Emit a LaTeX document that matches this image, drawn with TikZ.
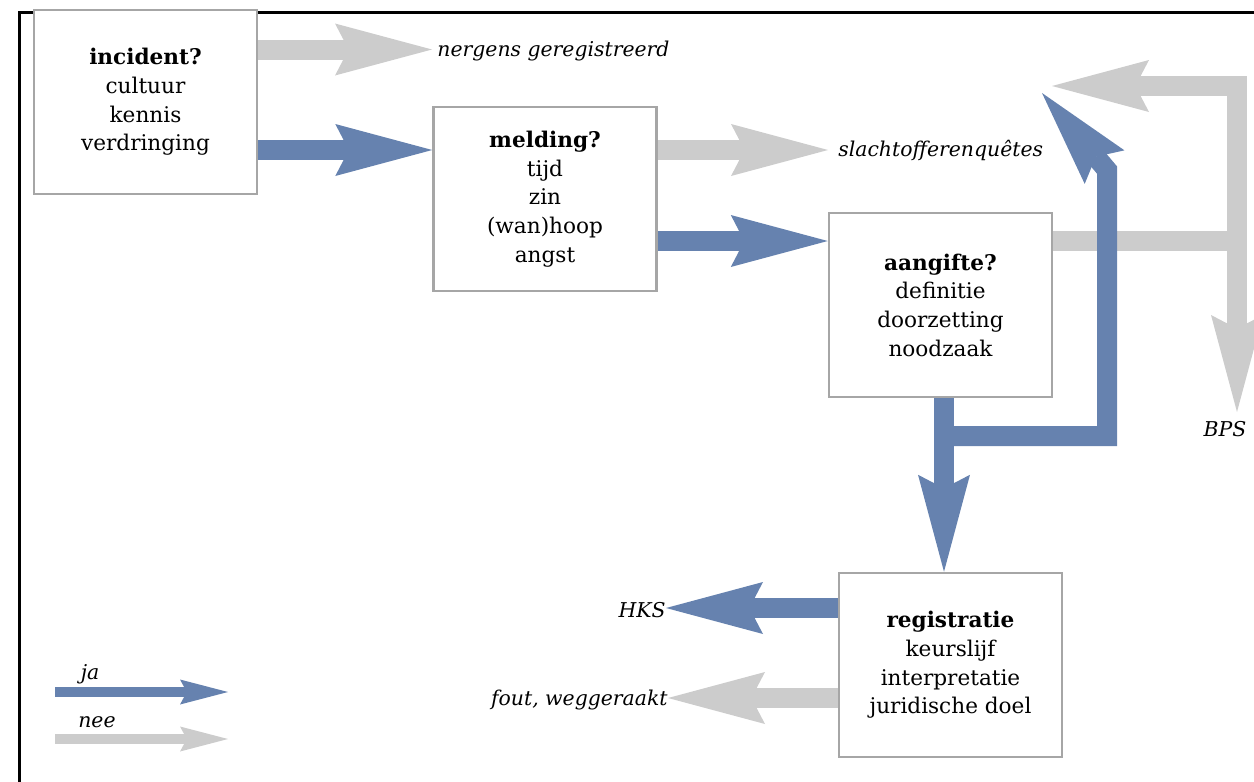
\documentclass[tikz,border=0pt]{standalone}
\usepackage{fontspec}
\setmainfont{DejaVu Serif}
\usetikzlibrary{arrows.meta,calc}
\definecolor{jablue}{HTML}{6682AF}
\definecolor{neegray}{HTML}{CCCCCC}
\definecolor{boxgray}{HTML}{A6A6A6}
\begin{document}
\begin{tikzpicture}[x=0.5pt,y=-0.5pt,
  stepbox/.style={draw=boxgray, line width=1.25pt, fill=white, minimum width=111.5pt, minimum height=92pt, inner sep=0pt, align=center, font=\fontsize{10.8}{14.35}\selectfont},
  bigtip/.style={-{Stealth[length=48.5pt,width=26pt,inset=6.8pt,line width=0pt]}},
  smalltip/.style={-{Stealth[length=24pt,width=12.5pt,inset=3.4pt,line width=0pt]}},
  jaarrow/.style={draw=jablue, line width=10pt, bigtip},
  neearrow/.style={draw=neegray, line width=10pt, bigtip},
  jalegend/.style={draw=jablue, line width=5pt, smalltip},
  neelegend/.style={draw=neegray, line width=5pt, smalltip},
  lbl/.style={font=\fontsize{10.2}{14.35}\selectfont\itshape, inner sep=0pt},
  frameline/.style={draw=black, line width=1.5pt}
]
\useasboundingbox (0,0) rectangle (1254,782);
\clip (0,0) rectangle (1254,782);
% frame
\coordinate (fbl) at (19,800);
\coordinate (ftl) at (19,12);
\coordinate (ftr) at (1280,12);
\draw[frameline] (fbl) -- (ftl) -- (ftr);
% rows and columns
\coordinate (r1) at (0,49.5);
\coordinate (r2) at (0,150);
\coordinate (r3) at (0,241);
\coordinate (r4) at (0,436);
\coordinate (r5) at (0,608);
\coordinate (r6) at (0,698);
\coordinate (vx) at (944,0);
\coordinate (bx) at (1107,0);
\coordinate (gx) at (1237,0);
\coordinate (grayup) at (1052,86);
\coordinate (grayknee) at (1237,86);
\coordinate (bpstip) at (1237,412);
\coordinate (blueknee) at (1107,170);
\coordinate (blueup) at (1042,93);
% boxes
\node[stepbox] (incident) at (145.5,102) {\textbf{incident?}\\cultuur\\kennis\\verdringing};
\node[stepbox] (melding) at (545,199) {\textbf{melding?}\\tijd\\zin\\(wan)hoop\\angst};
\node[stepbox] (aangifte) at (940.5,305) {\textbf{aangifte?}\\definitie\\doorzetting\\noodzaak};
\node[stepbox] (registratie) at (950.5,665) {\textbf{registratie}\\keurslijf\\interpretatie\\juridische doel};
% labels
\node[lbl, anchor=west] (nergens) at (437,51) {nergens geregistreerd};
\node[lbl, anchor=west] (slacht) at (838,150) {slachtofferenquêtes};
\node[lbl] (bps) at (1225,429) {BPS};
\node[lbl, anchor=east] (hks) at (666,610) {HKS};
\node[lbl, anchor=east] (fout) at (668,700) {fout, weggeraakt};
\node[lbl] (ja) at (90,674) {ja};
\node[lbl] (nee) at (97,722) {nee};
% connectors
\draw[neearrow, shorten >=2.5pt] (incident.east |- r1) -- (nergens.west |- r1);
\draw[jaarrow] (incident.east |- r2) -- (melding.west |- r2);
\draw[neearrow, shorten >=5pt] (melding.east |- r2) -- (slacht.west |- r2);
\draw[jaarrow] (melding.east |- r3) -- (aangifte.west |- r3);
\draw[neearrow, -] (aangifte.east |- r3) -- (gx |- r3);
\draw[neearrow, {Stealth[length=48.5pt,width=26pt,inset=6.8pt,line width=0pt]}-{Stealth[length=48.5pt,width=26pt,inset=6.8pt,line width=0pt]}] (grayup) -- (grayknee) -- (bpstip);
\draw[jaarrow] (aangifte.south -| vx) -- (registratie.north -| vx);
\draw[jaarrow] (vx |- r4) -- (bx |- r4) -- (blueknee) -- (blueup);
\draw[jaarrow] (registratie.west |- r5) -- (hks.east |- r5);
\draw[neearrow] (registratie.west |- r6) -- (fout.east |- r6);
% legend
\coordinate (l1s) at (55,692);
\coordinate (l1e) at (228,692);
\coordinate (l2s) at (55,739);
\coordinate (l2e) at (228,739);
\draw[jalegend] (l1s) -- (l1e);
\draw[neelegend] (l2s) -- (l2e);
\end{tikzpicture}
\end{document}
